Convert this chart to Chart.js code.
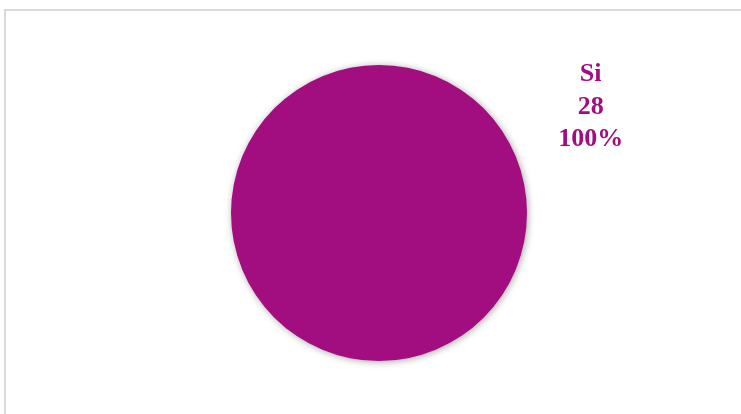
<!DOCTYPE html>
<html>
<head>
<meta charset="utf-8">
<script src="https://cdn.jsdelivr.net/npm/chart.js@4/dist/chart.umd.min.js"></script>
<style>
  html, body { margin: 0; padding: 0; background: #fff; }
  #wrap { position: relative; width: 741px; height: 414px; overflow: hidden; }
  #frame { position: absolute; left: 4px; top: 9px; width: 800px; height: 500px;
           border-top: 2px solid #d9d9d9; border-left: 2px solid #d9d9d9; }
  canvas { position: absolute; left: 0; top: 0; }
</style>
</head>
<body>
<div id="wrap">
  <div id="frame"></div>
  <canvas id="pieChart" width="741" height="414"></canvas>
</div>
<script>
// datos
const categorias = ['Si'];
const valores = [28];
const colores = ['#a20e80'];

const total = valores.reduce((a, b) => a + b, 0);

// sombra suave bajo el pastel
const sombra = {
  id: 'sombra',
  beforeDatasetDraw(chart) {
    const c = chart.ctx;
    c.save();
    c.shadowColor = 'rgba(0, 0, 0, 0.35)';
    c.shadowBlur = 7;
    c.shadowOffsetX = 1;
    c.shadowOffsetY = 1;
  },
  afterDatasetDraw(chart) {
    chart.ctx.restore();
  }
};

// etiqueta: nombre, valor y porcentaje
const etiquetas = {
  id: 'etiquetas',
  afterDatasetsDraw(chart) {
    const c = chart.ctx;
    const arcs = chart.getDatasetMeta(0).data;
    arcs.forEach((arc, i) => {
      const x = arc.x + arc.outerRadius * 1.43;
      const y = arc.y - arc.outerRadius * 0.89;
      const pct = Math.round(valores[i] / total * 100) + '%';
      c.save();
      c.fillStyle = colores[i];
      c.font = 'bold 26px "Liberation Serif", "Times New Roman", serif';
      c.textAlign = 'center';
      c.textBaseline = 'alphabetic';
      [categorias[i], String(valores[i]), pct].forEach((t, k) => {
        c.fillText(t, x, y + k * 32.5);
      });
      c.restore();
    });
  }
};

new Chart(document.getElementById('pieChart'), {
  type: 'pie',
  data: {
    labels: categorias,
    datasets: [{
      data: valores,
      backgroundColor: colores,
      borderWidth: 0
    }]
  },
  options: {
    responsive: false,
    animation: false,
    layout: {
      padding: { top: 65, bottom: 53, left: 231, right: 214 }
    },
    plugins: {
      legend: { display: false },
      tooltip: { enabled: false }
    }
  },
  plugins: [sombra, etiquetas]
});
</script>
</body>
</html>
